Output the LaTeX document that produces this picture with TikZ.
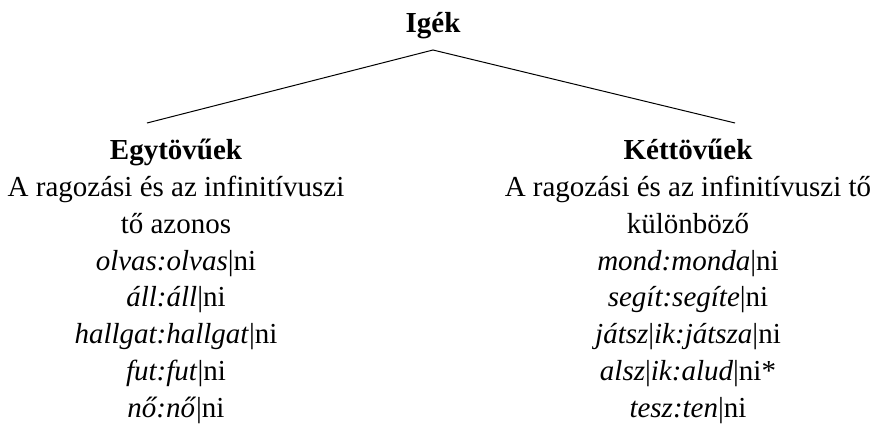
\documentclass[tikz,border=0pt]{standalone}
\usepackage{fontspec}
\setmainfont{Liberation Serif}
\begin{document}
\begin{tikzpicture}[x=1pt,y=-1pt,
  txt/.style={inner sep=0pt,align=center,font=\fontsize{29}{36.8}\selectfont},
  edge/.style={line width=1pt}]
\useasboundingbox (0,0) rectangle (879,424);
\node[txt,font=\fontsize{29}{37}\selectfont\bfseries,anchor=base] (root) at (433,32) {Igék};
\coordinate (apex) at (433,50);
\coordinate (lend) at (147,123);
\coordinate (rend) at (735,123);
\draw[edge] (lend) -- (apex) -- (rend);
\node[txt,anchor=north] (left) at (176,139) {\textbf{Egytövűek}\\
A ragozási és az infinitívuszi\\
tő azonos\\
\textit{olvas:olvas}|ni\\
\textit{áll:áll}|ni\\
\textit{hallgat:hallgat}|ni\\
\textit{fut:fut}|ni\\
\textit{nő:nő}|ni};
\node[txt,anchor=north] (right) at (688,139) {\textbf{Kéttövűek}\\
A ragozási és az infinitívuszi tő\\
különböző\\
\textit{mond:monda}|ni\\
\textit{segít:segíte}|ni\\
\textit{játsz}|\textit{ik:játsza}|ni\\
\textit{alsz}|\textit{ik:alud}|ni*\\
\textit{tesz:ten}|ni};
\end{tikzpicture}
\end{document}
